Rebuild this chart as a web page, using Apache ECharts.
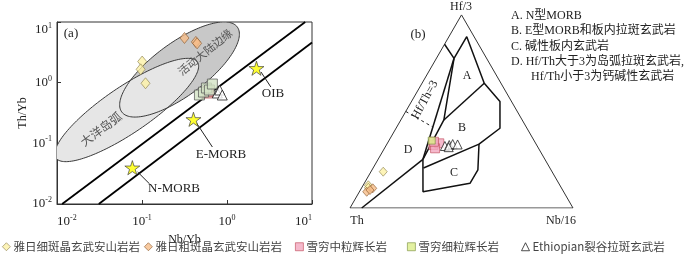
<!DOCTYPE html>
<html><head><meta charset="utf-8">
<script src="https://cdn.jsdelivr.net/npm/echarts@6/dist/echarts.min.js"></script>
<style>html,body{margin:0;padding:0;background:#fff}#c{width:700px;height:260px}</style>
</head><body><div id="c"></div><script>
// ---------- Panel (a): Th/Yb vs Nb/Yb, points as [Nb/Yb, Th/Yb] ----------
const aFineDiamond   = [[0.1005,2.23],[0.0964,1.66],[0.110,0.977]];
const aCoarseDiamond = [[0.316,5.45],[0.43,4.7],[0.445,4.45]];
const aMediumGabbro  = [[0.589,0.676],[0.60,0.72]];
const aFineGabbro    = [[0.474,0.626],[0.529,0.70],[0.573,0.817],[0.621,0.757],[0.673,0.95]];
const aEthiopian     = [[0.77,0.676],[0.82,0.757],[0.88,0.626]];
const refNames  = ['OIB','E-MORB','N-MORB'];
const refPoints = [[2.22,1.73],[0.403,0.249],[0.077,0.0397]];
const refLeaders = [[[2.51,1.50],[3.28,0.849]],[[0.438,0.216],[0.673,0.087]],[[0.0889,0.0337],[0.123,0.0214]]];
const arrayLines = [[[0.0115,0.01],[8.32,10]],[[0.031,0.01],[10,4.6]]];
// ellipses: two tips of the major axis (data) + minor/major ratio
const arcEllipse  = {tip1:[0.00973,0.0573], tip2:[0.449,2.19], ratio:0.27};   // 大洋岛弧
const acmEllipse  = {tip1:[0.0578,0.3285], tip2:[1.322,8.27], ratio:0.37};    // 活动大陆边缘
const xTicks = [0.01,0.1,1,10];

// ---------- Panel (b): Th-Hf/3-Nb/16, compositions as [Hf/3, Th, Nb/16] ----------
const bFineDiamond   = [[18.8,75.7,5.5],[11.75,85.9,2.35],[10.5,86.5,3.0]];
const bCoarseDiamond = [[8.4,88.3,3.3],[10.2,84.7,5.1],[9.3,86.4,4.3]];
const bMediumGabbro  = [[32.6,46.3,21.1],[33.5,43.2,23.3],[30.9,46.4,22.7],[34.3,45.2,20.5]];
const bFineGabbro    = [[34.9,45.9,19.2]];
const bEthiopian     = [[32.1,41.4,26.5],[32.6,39.2,28.2],[33.1,37.4,29.5],[32.9,35.3,31.8],[31.5,40.0,28.5]];
const triangle = [[100,0,0],[0,100,0],[0,0,100],[100,0,0]];
const fieldLines = [
  [[0,94.75,5.25],[25.2,54.7,20.1]],
  [[77.5,14.6,7.9],[25.2,54.7,20.1]],
  [[84.8,15.2,0],[77.5,14.6,7.9],[88.7,3.3,8.0],[64.6,7.5,27.9],[55.1,5.2,39.7],[41.3,12.1,46.6],[33.1,25.6,41.3]],
  [[77.5,14.6,7.9],[45.6,35.1,19.3],[25.2,54.7,20.1]],
  [[45.6,35.1,19.3],[64.6,7.5,27.9]],
  [[25.2,54.7,20.1],[8.4,63.0,28.5],[12.8,39.8,47.4],[19.7,32.8,47.5],[33.1,25.6,41.3]],
  [[20.7,56.7,22.6],[33.1,25.6,41.3]]
];
const hfThLine = [[50,50,0],[41.8,41.8,16.4]];
const fieldNotes = ['A. N型MORB','B. E型MORB和板内拉斑玄武岩','C. 碱性板内玄武岩','D. Hf/Th大于3为岛弧拉斑玄武岩,','Hf/Th小于3为钙碱性玄武岩'];
const legendNames = ['雅日细斑晶玄武安山岩岩','雅日粗斑晶玄武安山岩岩','雪穷中粒辉长岩','雪穷细粒辉长岩','Ethiopian裂谷拉斑玄武岩'];

const SERIF = 'Liberation Serif';
const CJK = 'Noto Sans CJK SC';
const S3 = Math.sqrt(3)/2;
function tern(c){ const s=c[0]+c[1]+c[2]; const hf=c[0]/s, nb=c[2]/s; return [nb+hf/2, hf*S3]; }
const STAR = 'path://M50,0 L61,35 L98,35 L68,57 L79,91 L50,70 L21,91 L32,57 L2,35 L39,35 Z';

const styles = {
  fineD:  {color:'#fdf1a6', borderColor:'#8c8050', borderWidth:0.8},
  coarseD:{color:'#f6bd88', borderColor:'#8a5a30', borderWidth:0.8},
  medG:   {color:'#f3a7bf', borderColor:'#c04a5a', borderWidth:0.8},
  fineG:  {color:'#dcee8a', borderColor:'#7a9040', borderWidth:0.8},
  fineGa: {color:'#d3e4c6', borderColor:'#555', borderWidth:0.9},
  medGa:  {color:'#e9c7c4', borderColor:'#b04040', borderWidth:0.9},
  eth:    {color:'#ffffff', borderColor:'#222', borderWidth:1}
};

function ellipseSeries(e, fill, stroke, z){
  return {type:'custom', xAxisIndex:0, yAxisIndex:0, silent:true, z:z, data:[0],
    renderItem(params, api){
      const p1=api.coord(e.tip1), p2=api.coord(e.tip2);
      const cx=(p1[0]+p2[0])/2, cy=(p1[1]+p2[1])/2;
      const dx=p2[0]-p1[0], dy=p2[1]-p1[1];
      const a=Math.hypot(dx,dy)/2, b=a*e.ratio, ang=Math.atan2(dy,dx);
      const pts=[];
      for(let i=0;i<160;i++){const t=i/160*2*Math.PI; const x=a*Math.cos(t), y=b*Math.sin(t);
        pts.push([cx+x*Math.cos(ang)-y*Math.sin(ang), cy+x*Math.sin(ang)+y*Math.cos(ang)]);}
      const cs=params.coordSys;
      return {type:'polygon', shape:{points:pts}, style:{fill:fill, stroke:stroke, lineWidth:1},
        clipPath:{type:'rect', shape:{x:cs.x, y:cs.y, width:cs.width, height:cs.height}}};
    }};
}
function lineA(d, w, col, z, type){
  return {type:'line', xAxisIndex:0, yAxisIndex:0, data:d, symbol:'none', silent:true, z:z,
    lineStyle:{color:col, width:w, type:type||'solid'}};
}
function lineB(d, w, col, type){
  return {type:'line', xAxisIndex:1, yAxisIndex:1, data:d.map(tern), symbol:'none', silent:true, z:3,
    lineStyle:{color:col, width:w, type:type||'solid'}};
}
function scat(name, grid, d, sym, size, st, z){
  return {type:'scatter', name:name, xAxisIndex:grid, yAxisIndex:grid, data:grid? d.map(tern): d,
    symbol:sym, symbolSize:size, itemStyle:st, z:z||5, silent:true};
}

const supRich = {b:{fontSize:13, fontFamily:SERIF, color:'#222'}, s:{fontSize:8, fontFamily:SERIF, color:'#222', padding:[0,0,8,0]}};
function supFmt(v){ const e=Math.round(Math.log10(v)); return '{b|10}{s|'+e+'}'; }

const series = [
  ellipseSeries(acmEllipse, '#c8c8c8', null, 1),
  ellipseSeries(arcEllipse, '#e6e6e6', null, 1),
  ellipseSeries(acmEllipse, 'none', '#3a3a3a', 1),
  ellipseSeries(arcEllipse, 'none', '#3a3a3a', 1),
  lineA(arrayLines[0], 1.8, '#000', 2),
  lineA(arrayLines[1], 1.8, '#000', 2),
  ...refLeaders.map(l=>lineA(l, 1, '#222', 2)),
  {type:'scatter', xAxisIndex:0, yAxisIndex:0, data:refPoints, symbol:STAR, symbolSize:15, symbolKeepAspect:true,
   itemStyle:{color:'#ffff00', borderColor:'#333', borderWidth:0.8}, z:6, silent:true},
  scat(legendNames[0], 0, aFineDiamond, 'diamond', [9,11], styles.fineD),
  scat(legendNames[1], 0, aCoarseDiamond, 'diamond', [9,11], styles.coarseD),
  scat(legendNames[2], 0, aMediumGabbro, 'rect', 10, styles.medGa),
  scat(legendNames[3], 0, aFineGabbro, 'rect', 10, styles.fineGa),
  scat(legendNames[4], 0, aEthiopian, 'triangle', 10, styles.eth),
  lineB(triangle, 1, '#333'),
  ...fieldLines.map(l=>lineB(l, 1.5, '#111')),
  lineB(hfThLine, 1, '#222', [3,3]),
  scat(legendNames[0], 1, bFineDiamond, 'diamond', [8,9], styles.fineD),
  scat(legendNames[1], 1, bCoarseDiamond, 'diamond', [8,9], styles.coarseD),
  scat(legendNames[2], 1, bMediumGabbro, 'rect', 9, styles.medG),
  scat(legendNames[3], 1, bFineGabbro, 'rect', 7, styles.fineG),
  scat(legendNames[4], 1, bEthiopian, 'triangle', 9, styles.eth)
];

const legendIcons = [
  ['diamond', styles.fineD],['diamond', styles.coarseD],['rect', styles.medG],['rect', styles.fineG],['triangle', styles.eth]
];
const legendLeft = [2, 144, 295, 407, 521];
const legends = legendNames.map((n,i)=>({
  left:legendLeft[i], top:241, itemWidth:8, itemHeight:8, itemGap:4, padding:0,
  selectedMode:false,
  textStyle:{fontSize:11.5, fontFamily:CJK+','+SERIF, color:'#444', padding:[0,0,0,-2]},
  data:[{name:n, icon:legendIcons[i][0], itemStyle:legendIcons[i][1]}]
}));

function txt(t, x, y, size, fam, opts){
  return Object.assign({type:'text', x:x, y:y, silent:true, z:10,
    style:{text:t, fontSize:size, fontFamily:fam, fill:'#222', align:'center', verticalAlign:'middle'}}, opts||{});
}
const graphics = [
  txt('(a)', 71, 34, 13, SERIF),
  txt(refNames[0], 273, 94, 13, SERIF),
  txt(refNames[1], 221, 155, 13, SERIF),
  txt(refNames[2], 174, 189, 13, SERIF),
  {type:'text', x:101, y:129, rotation:37*Math.PI/180, silent:true, z:10,
   style:{text:'大洋岛弧', fontSize:12, fontFamily:CJK, fill:'#555', align:'center', verticalAlign:'middle'}},
  {type:'text', x:205, y:52, rotation:39*Math.PI/180, silent:true, z:10,
   style:{text:'活动大陆边缘', fontSize:11, fontFamily:CJK, fill:'#555', align:'center', verticalAlign:'middle'}},
  txt('(b)', 418, 35, 13, SERIF),
  txt('Hf/3', 461, 7, 12, SERIF),
  txt('Th', 357, 221, 12, SERIF),
  txt('Nb/16', 561, 221, 12, SERIF),
  txt('A', 467, 76, 12, SERIF),
  txt('B', 462, 128, 12, SERIF),
  txt('C', 454, 173, 12, SERIF),
  txt('D', 408, 150, 12, SERIF),
  {type:'text', x:425, y:100, rotation:61*Math.PI/180, silent:true, z:10,
   style:{text:'Hf/Th=3', fontSize:12, fontFamily:SERIF, fill:'#222', align:'center', verticalAlign:'middle'}},
  ...fieldNotes.map((t,i)=>({type:'text', x: i===4? 531: 511, y: 16+i*15.2, silent:true, z:10,
     style:{text:t, fontSize:12, fontFamily:SERIF+','+CJK, fill:'#222', align:'left', verticalAlign:'middle'}}))
];

const option = {
  animation:false,
  backgroundColor:'#fff',
  grid:[
    {left:57, top:22, width:255, height:182, show:true, borderColor:'#333', borderWidth:1, backgroundColor:'transparent'},
    {left:350, top:208-223*S3, width:223, height:223*S3, show:false}
  ],
  xAxis:[
    {type:'log', logBase:10, min:xTicks[0], max:xTicks[3], gridIndex:0,
     name:'Nb/Yb', nameLocation:'middle', nameGap:27, nameTextStyle:{fontSize:12, fontFamily:SERIF, color:'#222'},
     axisLine:{lineStyle:{color:'#333'}}, splitLine:{show:false}, minorTick:{show:false},
     axisTick:{inside:true, length:4, lineStyle:{color:'#333'}},
     axisLabel:{formatter:supFmt, rich:supRich, margin:10, alignMinLabel:'left', alignMaxLabel:'right'}},
    {type:'value', min:0, max:1, gridIndex:1, show:false}
  ],
  yAxis:[
    {type:'log', logBase:10, min:0.01, max:10, gridIndex:0,
     name:'Th/Yb', nameLocation:'middle', nameGap:27, nameTextStyle:{fontSize:12, fontFamily:SERIF, color:'#222'},
     axisLine:{lineStyle:{color:'#333'}}, splitLine:{show:false},
     axisTick:{inside:true, length:4, lineStyle:{color:'#333'}},
     axisLabel:{formatter:supFmt, rich:supRich, margin:5, verticalAlignMaxLabel:'top'}},
    {type:'value', min:0, max:S3, gridIndex:1, show:false}
  ],
  legend:legends,
  series:series,
  graphic:graphics
};
const chart = echarts.init(document.getElementById('c'));
chart.setOption(option);
</script></body></html>
